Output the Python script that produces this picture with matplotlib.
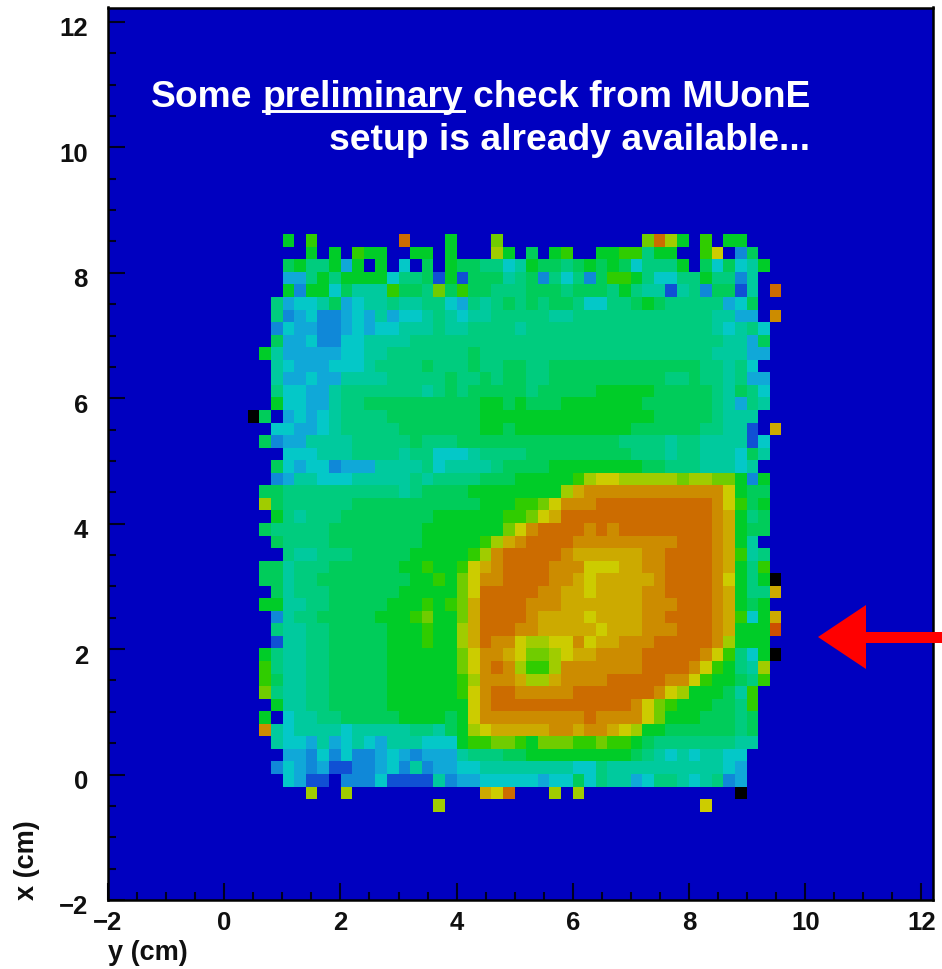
import numpy as np
import matplotlib
matplotlib.use("Agg")
import matplotlib.pyplot as plt
from matplotlib.colors import ListedColormap
from matplotlib.patches import Polygon
from matplotlib.lines import Line2D
from matplotlib.ticker import MultipleLocator
from matplotlib.transforms import ScaledTranslation

plt.rcParams['font.family'] = ['Liberation Sans', 'DejaVu Sans']

# Colour level of each bin, top row first. '.' is an empty bin.
LEVEL_CHARS = "123456789ABCDEFGk"
LEVEL_COLORS = ["#1050d4", "#1088d8", "#10a8d8", "#04c8c8", "#00ca9e", "#00cc7e",
                "#00cc5a", "#00cc28", "#30cc00", "#70cc00", "#a0cc00", "#cccc00",
                "#ccaa00", "#cc8c00", "#cc6c00", "#cc5000", "#000000"]

LEFT_BINS = [
    "...8.9.......F...8...A..",
    ".....8.8.988..88.8...B8.",
    "...7866838.8.4.7.8776645",
    "...336868888466718177756",
    "...8288475559776A7977666",
    "..6344573455655664365676",
    "..6234223435344565455666",
    "..2433223434455565566665"[:24],
    "..733422445555" + "6666666666",
    ".85333334455" + "666666676666",
    "..54333444" + "5" + "6666766676677",
    "..533433" + "5555" + "666667667677",
    "..64433" + "5" + "6666666" + "5" + "67677777",
    "..844335" + "66" + "77777777778878",
    "k7.34345" + "66" + "66777777778888",
    "..443345" + "66" + "66677777778878",
    ".72335555" + "666667666777777",
    "...444555666656644456666",
    "..74344233355556455556 77"[:22] + "77",
    "..23554445" + "55556566667778",
    ".77" + "6666666666" + "5" + "6" + "777788888",
    ".B7" + "666666" + "77777777777" + "888" + "9",
    "..8" + "656" + "667777777788888899",
    ".76" + "666677777777888888" + "8AC",
    "..7" + "66667777777788888" + "9BDE",
    "...6556" + "6677777888889" + "BEFF",
    ".77" + "566677777788" + "988" + "9CD" + "EFF",
    ".77" + "5667777777788" + "98ACEEFF",
    "..7" + "566677777788888" + "ACFFFF",
    ".88" + "556677777888" + "989ADFFFF",
    "..2" + "56677777888" + "9A88ADFFFF",
    "..6" + "556677777888" + "988BDFFFE",
    "..1" + "556677777888" + "988BDFEEC",
    ".86" + "556677777888" + "888ACEEDC",
    ".96" + "556677777888" + "888ACEFEB",
    ".97" + "556677777888" + "8889BEEED",
    ".A6" + "556677777888" + "8889CEFFE",
    "..8" + "556677777888" + "8888CEFFF",
    ".8." + "455667777788" + "8878CEEEE",
    ".E5" + "455554555556" + "6578BCDDD",
    "..5" + "443534543555444" + "899AA9",
    "..." + "332424223432333" + "566677",
    "..2" + "432311223425233" + "445555",
    "..." + "4311.2224111152" + "334444",
    ".....B..B" + "..........." + "DCF.",
    "................B.......",
]

RIGHT_BINS = [
    "..........AFB8.9.88...",
    "7.89..8899688..9C.27..",
    "87767878746668.747458.",
    "72646279986446686625..",
    "77767776865515627715.F",
    "76776446678766666347..",
    "665566666666666655" + "33.E",
    "66666666666666665" + "4564.",
    "666666666666666665" + "537.",
    "666666666666666655" + "533.",
    "667777777777777665" + "64..",
    "667777777777667665" + "633.",
    "677777888887777765" + "764.",
    "777888888877777765" + "365.",
    "888888888887777765" + "55..",
    "888888888777777665" + "51.D",
    "777777776666566555" + "514.",
    "777777777666566555" + "475.",
    "778888888877666555" + "45..",
    "88889BCCBBBBBABBAA828.",
    "888BD" + "EEEEEEEEEEEE" + "C877.",
    "9ACEEE" + "FFFFFFFFFF" + "EC978.",
    "ACD" + "FFFFFFFFFFFFF" + "ED867.",
    "EFFFFEFE" + "FFFFFFFF" + "ED877.",
    "FFFF" + "EEEEEEEEE" + "FFF" + "ED85..",
    "FFFE" + "DDDDDD" + "EE" + "FFFF" + "ED956.",
    "FFEEE" + "CCCDD" + "EE" + "FFFF" + "ED869.",
    "FFEED" + "CDDDD" + "DE" + "FFFF" + "EC868k",
    "FEEDD" + "CDDDD" + "EE" + "FFFF" + "ED866D",
    "EEEDD" + "DDDDD" + "EEE" + "FFF" + "ED878.",
    "EDDDD" + "CDDDD" + "EE" + "FFFF" + "ED948D",
    "EDDDD" + "DCDDD" + "EEE" + "FFF" + "ED888G",
    "BBCCE" + "CDDEE" + "E" + "FFFFF" + "EB888.",
    "AABCD" + "DEEEE" + "FFFFF" + "EC9648k",
    "99B" + "EEEEEEE" + "FFFF" + "EC9865B.",
    "BBDEEEE" + "FFFFF" + "EEC" + "988769.",
    "EEEE" + "FFFFFFF" + "ECB" + "888759..",
    "FFFFFFFFF" + "ECA9" + "888776" + "9..",
    "EEEEE" + "F" + "EEEE" + "CA" + "888777" + "67..",
    "DDEEDEEDCB" + "88" + "777777" + "67..",
    "8AAA99A998" + "7" + "6666666" + "55..",
    "888888888" + "765" + "454" + "554" + "4...",
    "5555" + "44" + "6" + "5555555555" + "43...",
    "43447" + "4655" + "34" + "66" + "5456" + "23...",
    "..B.B" + "............." + "k...",
    "...............C......",
]

X_TICKS = [-2, 0, 2, 4, 6, 8, 10, 12]
Y_TICKS = [-2, 0, 2, 4, 6, 8, 10, 12]
X_LABEL = "y (cm)"
Y_LABEL = "x (cm)"
NOTE_LINE_2 = "setup is already available..."

W, H = 942, 969
fig = plt.figure(figsize=(W / 100, H / 100), dpi=100, facecolor="white")
L, R, T, B = 108, 933, 7.5, 900
SX, SY = 58.1, 62.72
ax = fig.add_axes([L / W, 1 - B / H, (R - L) / W, (B - T) / H], facecolor="#0000c0")
ax.set_xlim(-2, -2 + (R - L) / SX)
ax.set_ylim(-2, -2 + (B - T) / SY)

rows = [(a.ljust(24, ".")[:24] + b.ljust(22, ".")[:22]) for a, b in zip(LEFT_BINS, RIGHT_BINS)]
grid = np.ma.masked_less(
    np.array([[LEVEL_CHARS.find(c) for c in r] for r in rows], dtype=float), 0)
cw = 11.6 / SX
ch = 12.55 / SY
x_edges = (247.7 - L) / SX - 2 + cw * np.arange(grid.shape[1] + 1)
y_edges = (B - 234.3) / SY - 2 - ch * np.arange(grid.shape[0] + 1)
cmap = ListedColormap(LEVEL_COLORS)
ax.pcolormesh(x_edges, y_edges, grid, cmap=cmap, vmin=-0.5, vmax=len(LEVEL_COLORS) - 0.5,
              antialiased=False, linewidth=0, rasterized=True)

ax.set_xticks(X_TICKS)
ax.set_yticks(Y_TICKS)
ax.set_xticklabels(["\u2212" + str(-t) if t < 0 else str(t) for t in X_TICKS])
ax.set_yticklabels(["\u2212" + str(-t) if t < 0 else str(t) for t in Y_TICKS])
ax.xaxis.set_minor_locator(MultipleLocator(0.5))
ax.yaxis.set_minor_locator(MultipleLocator(0.5))
ax.tick_params(which="major", direction="in", length=12.5, width=1.5, color="#000020")
ax.tick_params(which="minor", direction="in", length=6, width=1.5, color="#000020")
ax.tick_params(axis="x", which="major", pad=8)
ax.tick_params(axis="y", which="major", pad=14.4)
down = ScaledTranslation(0, -5 / 100, fig.dpi_scale_trans)
for lab in ax.get_xticklabels() + ax.get_yticklabels():
    lab.set_fontsize(18.5)
    lab.set_fontweight("bold")
    lab.set_color("#101010")
for lab in ax.get_yticklabels():
    lab.set_transform(lab.get_transform() + down)
for s in ax.spines.values():
    s.set_linewidth(1.8)
    s.set_color("black")


def fx(px):
    return px / W


def fy(py):
    return 1 - py / H


fig.text(fx(108), fy(953), X_LABEL, fontsize=19.5, fontweight="bold", color="#101010",
         ha="left", va="center")
fig.text(fx(27), fy(900), Y_LABEL, fontsize=19.5, fontweight="bold", color="#101010",
         rotation=90, ha="center", va="bottom")

note = dict(fontsize=26.8, fontweight="bold", color="white", va="baseline")
fig.text(fx(151), fy(107), "Some", ha="left", **note)
fig.text(fx(263), fy(107), "preliminary", ha="left", **note)
fig.text(fx(810), fy(107), "check from MUonE", ha="right", **note)
fig.text(fx(810), fy(150), NOTE_LINE_2, ha="right", **note)
fig.add_artist(Line2D([fx(263), fx(464)], [fy(111), fy(111)], color="white", lw=2.1))

fig.add_artist(Polygon(
    [(fx(818), fy(637)), (fx(866), fy(605)), (fx(866), fy(632)), (fx(942), fy(632)),
     (fx(942), fy(643)), (fx(866), fy(643)), (fx(866), fy(669))],
    closed=True, facecolor="#ff0000", edgecolor="none", transform=fig.transFigure))

fig.savefig("out.png", dpi=100, facecolor="white")
